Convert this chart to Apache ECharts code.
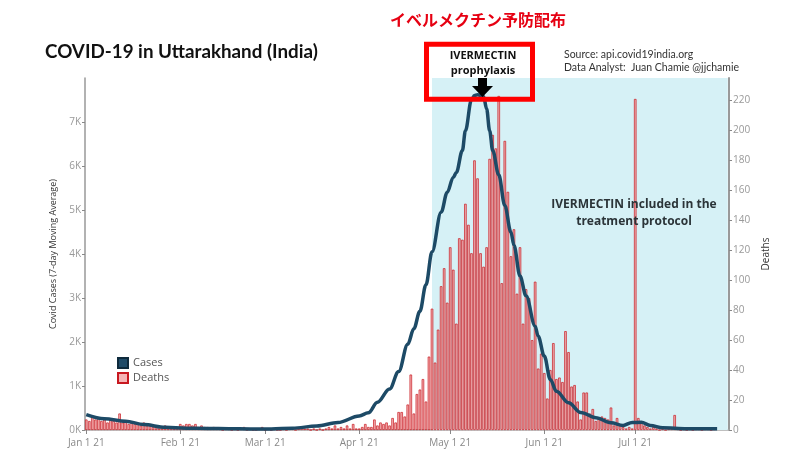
<!DOCTYPE html>
<html><head><meta charset="utf-8">
<script src="https://cdn.jsdelivr.net/npm/echarts@6/dist/echarts.min.js"></script>
<style>html,body{margin:0;padding:0;background:#fff}#c{width:800px;height:476px}</style>
</head><body><div id="c"></div>
<script>
// ---- data ----
const deathsJan = [7,6,9,7,8,6,7,5,7,6,5,11,5,6,4,5,4,4,3,5,3,4,2,3,3,2,3,2,2,1,2];
const deathsFeb = [4,3,4,4,3,4,2,3,2,2,1,2,1,1,0,1,1,0,1,0,1,2,0,1,0,0,1,2];
const deathsMar = [0,1,0,1,0,0,1,0,1,1,0,1,2,1,1,0,1,0,1,0,1,2,1,3,1,2,1,3,1,4,1];
const deathsApr = [1,2,4,2,2,7,3,5,4,5,3,8,5,12,12,9,17,37,11,24,27,34,19,49,81,45,67,96,108,85];
const deathsMay = [122,107,71,128,127,151,137,118,180,168,118,109,122,181,197,188,223,98,193,159,116,134,91,122,71,94,88,60,99,41,51];
const deathsJun = [38,21,40,58,34,35,32,66,52,29,30,19,7,25,25,11,14,6,8,9,8,7,15,3,8,3,2,1,2,1];
const deathsJul = [221,8,5,3,2,1,2,1,0,1,0,1,1,10,1,0,1,0,1,0,1,1,0,1,1,0,1];
const deathsStart = [2021, 0, 1];

const caseDates = ['2021-01-01','2021-01-07','2021-01-14','2021-01-20','2021-01-27','2021-02-03','2021-02-10','2021-02-17','2021-02-24','2021-03-03','2021-03-10','2021-03-18','2021-03-25','2021-04-01','2021-04-04','2021-04-07','2021-04-11','2021-04-14','2021-04-17','2021-04-19','2021-04-21','2021-04-23','2021-04-25','2021-04-28','2021-04-30','2021-05-02','2021-05-03','2021-05-05','2021-05-06','2021-05-08','2021-05-09','2021-05-10','2021-05-12','2021-05-13','2021-05-14','2021-05-15','2021-05-17','2021-05-19','2021-05-21','2021-05-22','2021-05-24','2021-05-26','2021-05-29','2021-05-30','2021-06-01','2021-06-03','2021-06-05','2021-06-09','2021-06-13','2021-06-18','2021-06-23','2021-06-27','2021-06-30','2021-07-03','2021-07-06','2021-07-10','2021-07-18','2021-07-28'];
const caseValues = [350,255,200,125,60,40,35,30,25,25,40,90,170,320,390,630,930,1330,1950,2300,2700,3300,4050,4950,5400,5740,5850,6350,6800,7500,7600,7620,7580,7300,6800,6350,5800,5100,4500,4200,3500,3050,2360,2130,1680,1150,880,620,400,280,165,105,170,175,105,50,30,27];

const monthTickLabels = ['Jan 1 21','Feb 1 21','Mar 1 21','Apr 1 21','May 1 21','Jun 1 21','Jul 1 21','Aug 1 21'];
const shadeStart = '2021-04-25';
const axisStart = '2021-01-01';
const axisEnd = '2021-07-31 12:00';

// ---- build ----
const deathsDaily = [].concat(deathsJan, deathsFeb, deathsMar, deathsApr, deathsMay, deathsJun, deathsJul);
const deathsData = deathsDaily.map((v, i) => [new Date(deathsStart[0], deathsStart[1], deathsStart[2] + i), v]);
const casesData = caseDates.map((d, i) => [d, caseValues[i]]);

const chart = echarts.init(document.getElementById('c'), null, {renderer: 'canvas'});
const DAY = 86400000;
const FONT = '"Open Sans", "Noto Sans", sans-serif';
const tStart = echarts.time.parse(axisStart).getTime();
const tEnd = echarts.time.parse(axisEnd).getTime();

chart.setOption({
  animation: false,
  backgroundColor: '#ffffff',
  textStyle: {fontFamily: FONT},
  grid: {left: 85, right: 71, top: 78, bottom: 46, containLabel: false},
  legend: {
    data: ['Cases', 'Deaths'], orient: 'vertical', left: 112, top: 352,
    itemWidth: 10, itemHeight: 10, itemGap: 3, icon: 'rect',
    textStyle: {fontSize: 11, color: '#555', fontFamily: FONT}
  },
  xAxis: {
    type: 'time', min: tStart, max: tEnd,
    minInterval: 28 * DAY, maxInterval: 31 * DAY,
    axisLine: {show: true, lineStyle: {color: '#aaa', width: 1.5}},
    axisTick: {show: true, length: 4, lineStyle: {color: '#888'}},
    axisLabel: {
      color: '#888', fontSize: 10, margin: 8, fontFamily: FONT,
      formatter: function (v) { return monthTickLabels[new Date(v).getMonth()]; }
    },
    splitLine: {show: false}
  },
  yAxis: [
    {
      type: 'value', min: 0, max: 8000, interval: 1000, position: 'left',
      name: 'Covid Cases (7-day Moving Average)', nameLocation: 'middle', nameGap: 23,
      nameTextStyle: {fontSize: 9, color: '#333', fontFamily: FONT},
      axisLine: {show: true, lineStyle: {color: '#999', width: 1.5}},
      axisTick: {show: true, length: 3, lineStyle: {color: '#888'}},
      axisLabel: {color: '#999', fontSize: 10, margin: 4, showMaxLabel: false,
        formatter: v => (v / 1000) + 'K'},
      splitLine: {show: false}
    },
    {
      type: 'value', min: 0, max: 235, interval: 20, position: 'right',
      name: 'Deaths', nameLocation: 'middle', nameGap: 20,
      nameTextStyle: {fontSize: 10, color: '#333', fontFamily: FONT},
      axisLine: {show: true, lineStyle: {color: '#999', width: 2}},
      axisTick: {show: true, length: 3, lineStyle: {color: '#888'}},
      axisLabel: {color: '#999', fontSize: 10, margin: 4, showMaxLabel: false},
      splitLine: {show: false}
    }
  ],
  series: [
    {
      name: 'shade', type: 'line', data: [], z: 1, silent: true,
      markArea: {
        silent: true,
        itemStyle: {color: '#d6f1f6'},
        data: [[{xAxis: echarts.time.parse(shadeStart).getTime()}, {xAxis: tEnd}]]
      }
    },
    {
      name: 'Deaths', type: 'bar', yAxisIndex: 1, data: deathsData, z: 3,
      barWidth: 2.5,
      itemStyle: {color: 'rgba(242,162,164,0.8)', borderColor: '#c81820', borderWidth: 0.7}
    },
    {
      name: 'Cases', type: 'line', yAxisIndex: 0, data: casesData, z: 5,
      showSymbol: false, smooth: 0.35, smoothMonotone: 'x',
      lineStyle: {color: '#1d4a66', width: 3.5},
      itemStyle: {color: '#1f4b68', borderColor: '#0e2a3c', borderWidth: 1}
    }
  ],
  graphic: [
    {type: 'text', left: 45, top: 42, z: 10,
      style: {text: 'COVID-19 in Uttarakhand (India)', font: 'bold 18.8px Lato, "Open Sans", sans-serif', fill: '#111'}},
    {type: 'text', x: 478, y: 20, z: 10,
      style: {text: 'イベルメクチン予防配布', font: 'bold 16px "Noto Sans CJK JP", sans-serif', fill: '#e60012', align: 'center', verticalAlign: 'middle'}},
    {type: 'text', left: 564, top: 48, z: 10,
      style: {text: 'Source: api.covid19india.org\nData Analyst:  Juan Chamie @jjchamie', font: '10.5px Lato, "Open Sans", sans-serif', fill: '#333', lineHeight: 13}},
    {type: 'rect', z: 20, shape: {x: 426.5, y: 44.2, width: 106, height: 55},
      style: {fill: 'none', stroke: '#ff0000', lineWidth: 5}},
    {type: 'text', x: 483, y: 63.5, z: 21,
      style: {text: 'IVERMECTIN\nprophylaxis', font: 'bold 11px "Open Sans", sans-serif', fill: '#111', align: 'center', verticalAlign: 'middle', lineHeight: 15}},
    {type: 'polygon', z: 22, shape: {points: [[478, 78], [487, 78], [487, 86], [493, 86], [482.5, 97], [472, 86], [478, 86]]},
      style: {fill: '#000'}},
    {type: 'text', x: 634, y: 213, z: 10,
      style: {text: 'IVERMECTIN included in the\ntreatment protocol', font: 'bold 12px "Open Sans", sans-serif', fill: '#2b3438', align: 'center', verticalAlign: 'middle', lineHeight: 17}}
  ]
});
</script>
</body></html>
